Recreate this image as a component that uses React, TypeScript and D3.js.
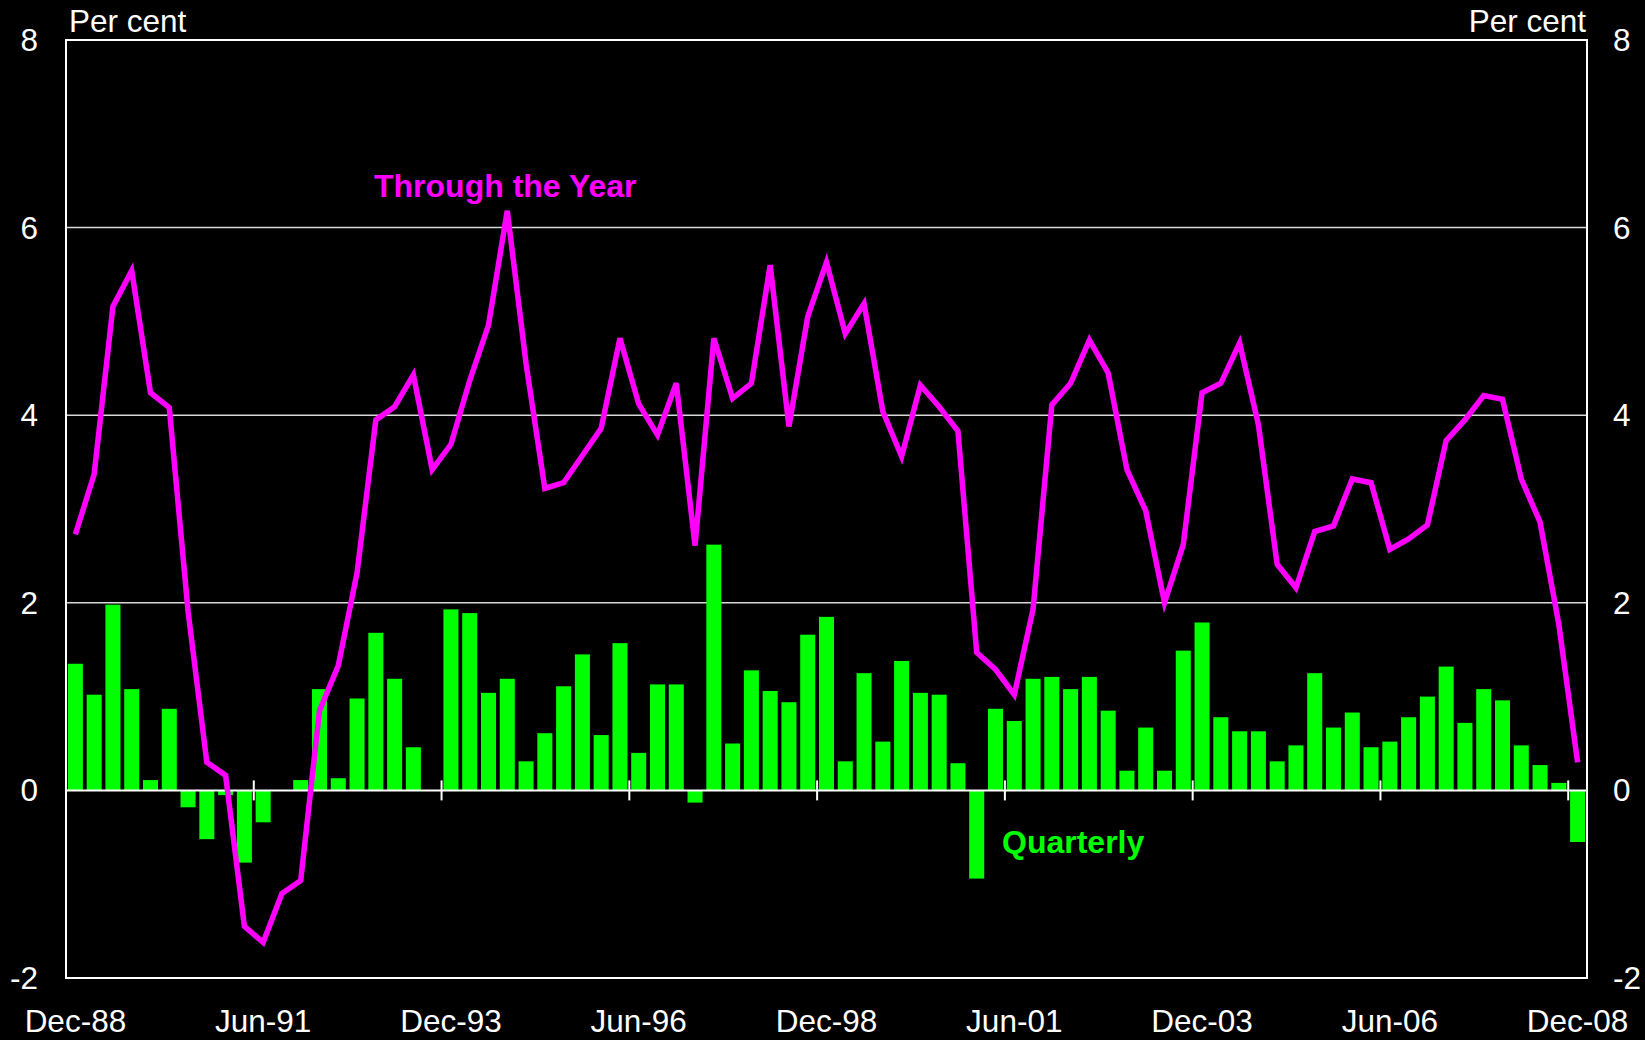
import React, { useRef, useEffect } from 'react';
import * as d3 from 'd3';

// Quarterly, Dec-88 .. Dec-08
const quarterly: number[] = [
  1.35, 1.02, 1.98, 1.08, 0.11, 0.87, -0.18, -0.52, -0.05, -0.77,
  -0.34, 0.0, 0.11, 1.08, 0.13, 0.98, 1.68, 1.19, 0.46, 0.0,
  1.93, 1.89, 1.04, 1.19, 0.31, 0.61, 1.11, 1.45, 0.59, 1.57,
  0.4, 1.13, 1.13, -0.13, 2.62, 0.5, 1.28, 1.06, 0.94, 1.66,
  1.85, 0.31, 1.25, 0.52, 1.38, 1.04, 1.02, 0.29, -0.94, 0.87,
  0.74, 1.19, 1.21, 1.08, 1.21, 0.85, 0.21, 0.67, 0.21, 1.49,
  1.79, 0.78, 0.63, 0.63, 0.31, 0.48, 1.25, 0.67, 0.83, 0.46,
  0.52, 0.78, 1.0, 1.32, 0.72, 1.08, 0.96, 0.48, 0.27, 0.08,
  -0.55,
];

const throughYear: number[] = [
  2.73, 3.37, 5.16, 5.54, 4.24, 4.08, 1.91, 0.3, 0.16, -1.45,
  -1.62, -1.1, -0.96, 0.85, 1.33, 2.32, 3.95, 4.09, 4.43, 3.42,
  3.69, 4.37, 4.96, 6.18, 4.55, 3.22, 3.28, 3.57, 3.86, 4.82,
  4.12, 3.79, 4.34, 2.61, 4.82, 4.18, 4.34, 5.6, 3.88, 5.05,
  5.63, 4.87, 5.19, 4.04, 3.56, 4.32, 4.09, 3.83, 1.47, 1.29,
  1.02, 1.93, 4.11, 4.34, 4.8, 4.45, 3.42, 2.98, 2.0, 2.62,
  4.24, 4.34, 4.77, 3.9, 2.41, 2.16, 2.76, 2.82, 3.32, 3.28,
  2.57, 2.68, 2.83, 3.73, 3.95, 4.21, 4.17, 3.32, 2.86, 1.77,
  0.3,
];

const quarters: string[] = quarterly.map((_, i) => {
  const months = ['Dec', 'Mar', 'Jun', 'Sep'];
  const yr = 88 + Math.floor((i + 3) / 4);
  return `${months[i % 4]}-${String(yr % 100).padStart(2, '0')}`;
});

const tickLabels: string[] = ['Dec-88', 'Jun-91', 'Dec-93', 'Jun-96', 'Dec-98', 'Jun-01', 'Dec-03', 'Jun-06', 'Dec-08'];
const yTicks: number[] = [-2, 0, 2, 4, 6, 8];

const App: React.FC = () => {
  const svgRef = useRef<SVGSVGElement>(null);

  useEffect(() => {
    if (!svgRef.current) return;
    const width = 1645;
    const height = 1040;
    const margin = { top: 40, right: 58, bottom: 62, left: 66 };
    const innerWidth = width - margin.left - margin.right;
    const innerHeight = height - margin.top - margin.bottom;
    const font = "'Liberation Sans', Arial, sans-serif";
    const fs = '31.5px';

    const svg = d3.select(svgRef.current);
    svg.selectAll('*').remove();

    svg.append('rect').attr('width', width).attr('height', height).attr('fill', '#000');

    const g = svg.append('g').attr('transform', `translate(${margin.left},${margin.top})`);

    const x = d3.scaleBand<string>().domain(quarters).range([0, innerWidth]).paddingInner(0.2).paddingOuter(0.1);
    const xStep = x.step();
    const y = d3.scaleLinear().domain([-2, 8]).range([innerHeight, 0]);

    // gridlines
    g.selectAll('line.grid')
      .data([2, 4, 6])
      .enter()
      .append('line')
      .attr('class', 'grid')
      .attr('x1', 0)
      .attr('x2', innerWidth)
      .attr('y1', d => y(d))
      .attr('y2', d => y(d))
      .attr('stroke', '#d8d8d8')
      .attr('stroke-width', 1.5);

    // bars
    g.selectAll('rect.bar')
      .data(quarterly)
      .enter()
      .append('rect')
      .attr('class', 'bar')
      .attr('x', (_, i) => x(quarters[i])!)
      .attr('width', x.bandwidth())
      .attr('y', d => y(Math.max(0, d)))
      .attr('height', d => Math.abs(y(d) - y(0)))
      .attr('fill', '#00ff00');

    // zero line + ticks
    g.append('line')
      .attr('x1', 0)
      .attr('x2', innerWidth)
      .attr('y1', y(0))
      .attr('y2', y(0))
      .attr('stroke', '#fff')
      .attr('stroke-width', 2);

    const tickIdx = tickLabels.map(t => quarters.indexOf(t));
    g.selectAll('line.xtick')
      .data(tickIdx.filter(i => i > 0))
      .enter()
      .append('line')
      .attr('x1', i => i * xStep)
      .attr('x2', i => i * xStep)
      .attr('y1', y(0) - 10)
      .attr('y2', y(0) + 10)
      .attr('stroke', '#fff')
      .attr('stroke-width', 2);

    // through the year line
    const line = d3.line<number>()
      .x((_, i) => x(quarters[i])! + x.bandwidth() / 2)
      .y(d => y(d));
    g.append('path')
      .datum(throughYear)
      .attr('d', line)
      .attr('fill', 'none')
      .attr('stroke', '#ff00ff')
      .attr('stroke-width', 5.5)
      .attr('stroke-linejoin', 'miter');

    // border
    g.append('rect')
      .attr('width', innerWidth)
      .attr('height', innerHeight)
      .attr('fill', 'none')
      .attr('stroke', '#fff')
      .attr('stroke-width', 2);

    // x labels
    g.selectAll('text.xlab')
      .data(tickIdx)
      .enter()
      .append('text')
      .attr('x', i => x(quarters[i])! + x.bandwidth() / 2)
      .attr('y', innerHeight + 54)
      .attr('text-anchor', 'middle')
      .attr('fill', '#fff')
      .style('font-family', font)
      .style('font-size', fs)
      .text(i => quarters[i]);

    // y labels left/right
    g.selectAll('text.yl')
      .data(yTicks)
      .enter()
      .append('text')
      .attr('x', -28)
      .attr('y', d => y(d))
      .attr('dy', '0.35em')
      .attr('text-anchor', 'end')
      .attr('fill', '#fff')
      .style('font-family', font)
      .style('font-size', fs)
      .text(d => d);

    g.selectAll('text.yr')
      .data(yTicks)
      .enter()
      .append('text')
      .attr('x', innerWidth + 26)
      .attr('y', d => y(d))
      .attr('dy', '0.35em')
      .attr('text-anchor', 'start')
      .attr('fill', '#fff')
      .style('font-family', font)
      .style('font-size', fs)
      .text(d => d);

    // units
    svg.append('text')
      .attr('x', margin.left + 3)
      .attr('y', 32)
      .attr('fill', '#fff')
      .style('font-family', font)
      .style('font-size', fs)
      .text('Per cent');
    svg.append('text')
      .attr('x', margin.left + innerWidth - 1)
      .attr('y', 32)
      .attr('text-anchor', 'end')
      .attr('fill', '#fff')
      .style('font-family', font)
      .style('font-size', fs)
      .text('Per cent');

    // series labels
    svg.append('text')
      .attr('x', 374)
      .attr('y', 197)
      .attr('fill', '#ff00ff')
      .style('font-family', font)
      .style('font-size', '32px')
      .style('font-weight', 'bold')
      .text('Through the Year');
    svg.append('text')
      .attr('x', 1002)
      .attr('y', 853)
      .attr('fill', '#00ff00')
      .style('font-family', font)
      .style('font-size', '32px')
      .style('font-weight', 'bold')
      .text('Quarterly');
  }, []);

  return (
    <svg
      ref={svgRef}
      width={1645}
      height={1040}
      style={{ position: 'absolute', left: 0, top: 0, display: 'block' }}
    />
  );
};

export default App;
